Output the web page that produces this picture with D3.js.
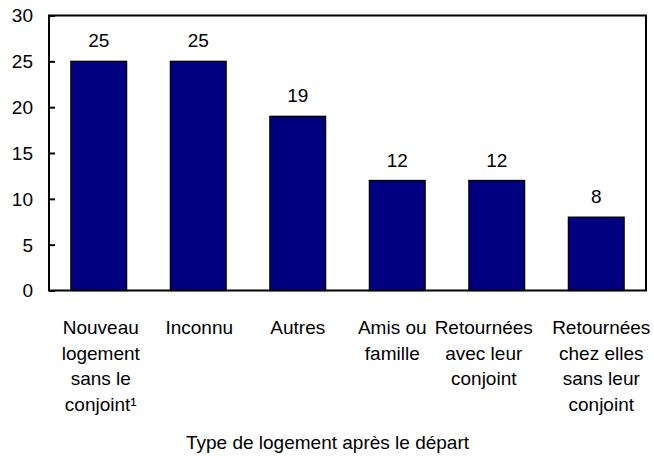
<!DOCTYPE html>
<html>
<head>
<meta charset="utf-8">
<script src="https://cdn.jsdelivr.net/npm/d3@7"></script>
<style>
  body { margin: 0; background: #fff; }
  text { font-family: "Liberation Sans", Arial, sans-serif; fill: #000; }
</style>
</head>
<body>
<svg class="bar-chart" width="654" height="456"></svg>
<script>
const categories = [
   ["Nouveau", "logement", "sans le", "conjoint¹"],
   ["Inconnu"],
   ["Autres"],
   ["Amis ou", "famille"],
   ["Retournées", "avec leur", "conjoint"],
   ["Retournées", "chez elles", "sans leur", "conjoint"]
];
const values = [25, 25, 19, 12, 12, 8];
const yTicks = [0, 5, 10, 15, 20, 25, 30];
const xTitle = "Type de logement après le départ";

const plotLeft = 49, plotRight = 646, plotTop = 15.5, plotBottom = 290.5;
const fontSize = 19;
// labels are nudged sideways in the original so the long ones don't collide
const labelNudge = [2, 1, 0, -5, -13, 5];

const svg = d3.select("svg.bar-chart");

const xScale = d3.scaleBand()
   .domain(d3.range(values.length))
   .range([plotLeft, plotRight])
   .paddingInner(0.44)
   .paddingOuter(0.22);

const yScale = d3.scaleLinear()
   .domain([0, 30])
   .range([plotBottom, plotTop]);

// bars
svg.append("g")
   .selectAll("rect")
   .data(values)
   .join("rect")
   .attr("x", (d, i) => xScale(i))
   .attr("y", d => yScale(d))
   .attr("width", xScale.bandwidth())
   .attr("height", d => yScale(0) - yScale(d))
   .attr("fill", "#000080")
   .attr("stroke", "#000")
   .attr("stroke-width", 1.3);

// value labels
svg.append("g")
   .selectAll("text")
   .data(values)
   .join("text")
   .attr("x", (d, i) => xScale(i) + xScale.bandwidth() / 2)
   .attr("y", d => yScale(d) - 14)
   .attr("text-anchor", "middle")
   .style("font-size", fontSize + "px")
   .text(d => d);

// frame
svg.append("rect")
   .attr("x", plotLeft)
   .attr("y", plotTop)
   .attr("width", plotRight - plotLeft)
   .attr("height", plotBottom - plotTop)
   .attr("fill", "none")
   .attr("stroke", "#000")
   .attr("stroke-width", 2);

// y axis, ticks pointing inward
const yAxis = svg.append("g")
   .attr("transform", `translate(${plotLeft},0)`)
   .call(d3.axisRight(yScale).tickValues(yTicks).tickSize(6).tickFormat(""));
yAxis.select(".domain").remove();
yAxis.selectAll("line").attr("stroke", "#000").attr("stroke-width", 2);

svg.append("g")
   .selectAll("text")
   .data(yTicks)
   .join("text")
   .attr("x", plotLeft - 16)
   .attr("y", d => yScale(d))
   .attr("dy", "0.36em")
   .attr("text-anchor", "end")
   .style("font-size", fontSize + "px")
   .text(d => d);

// category labels
const catG = svg.append("g")
   .selectAll("text")
   .data(categories)
   .join("text")
   .attr("text-anchor", "middle")
   .style("font-size", fontSize + "px");

catG.selectAll("tspan")
   .data((d, i) => d.map(line => ({ line, i })))
   .join("tspan")
   .attr("x", d => xScale(d.i) + xScale.bandwidth() / 2 + labelNudge[d.i])
   .attr("y", (d, j) => 334 + j * 25.5)
   .text(d => d.line);

// axis title
svg.append("text")
   .attr("x", (plotLeft + plotRight) / 2 - 20)
   .attr("y", 449)
   .attr("text-anchor", "middle")
   .style("font-size", fontSize + "px")
   .text(xTitle);
</script>
</body>
</html>
